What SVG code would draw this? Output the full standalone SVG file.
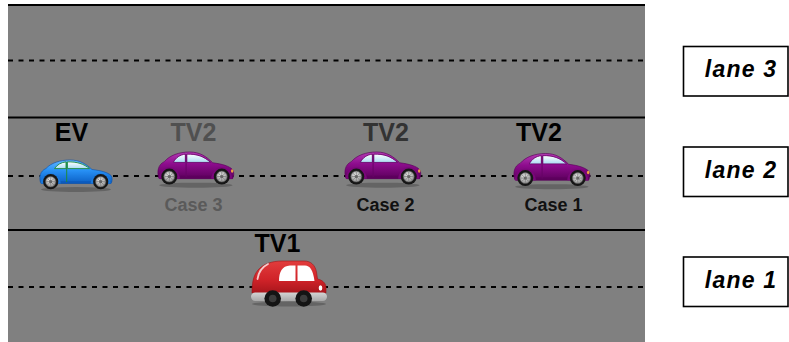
<svg xmlns="http://www.w3.org/2000/svg" xmlns:xlink="http://www.w3.org/1999/xlink" width="789" height="342" viewBox="0 0 789 342">
  <style>
    .edge { stroke: #000; stroke-width: 2; }
    .dash { stroke: #000; stroke-width: 2; stroke-dasharray: 5 5.5; }
    .lbl { font-family: "Liberation Sans", Arial, sans-serif; font-weight: bold; text-anchor: middle; }
    .car-name { font-size: 25px; }
    .case { font-size: 18px; }
    .lane-box { fill: #fff; stroke: #000; stroke-width: 1.6; }
    .lane-txt { font-family: "Liberation Sans", Arial, sans-serif; font-weight: bold; font-style: italic; font-size: 23px; letter-spacing: 1.2px; text-anchor: middle; fill: #000; }
    .tire { fill: #161616; }
    .rim { fill: url(#rimGrad); stroke: #555; stroke-width: 0.6; }
    .hub { fill: #666; }
    .shadow { fill: #000; opacity: 0.22; }
  </style>
  <defs>
    <linearGradient id="blueBody" x1="0" y1="0" x2="0" y2="1">
      <stop offset="0" stop-color="#62b6ff"/>
      <stop offset="0.45" stop-color="#2790f5"/>
      <stop offset="1" stop-color="#0b5fc4"/>
    </linearGradient>
    <linearGradient id="purpleBody" x1="0" y1="0" x2="0" y2="1">
      <stop offset="0" stop-color="#b43cb4"/>
      <stop offset="0.45" stop-color="#8d0c8d"/>
      <stop offset="1" stop-color="#5c005c"/>
    </linearGradient>
    <linearGradient id="redBody" x1="0" y1="0" x2="0" y2="1">
      <stop offset="0" stop-color="#e23c3c"/>
      <stop offset="0.6" stop-color="#cf2228"/>
      <stop offset="1" stop-color="#a8161c"/>
    </linearGradient>
    <linearGradient id="glass" x1="0" y1="0" x2="0" y2="1">
      <stop offset="0" stop-color="#ffffff"/>
      <stop offset="1" stop-color="#a9dcf2"/>
    </linearGradient>
    <linearGradient id="skirt" x1="0" y1="0" x2="0" y2="1">
      <stop offset="0" stop-color="#d4d4d4"/>
      <stop offset="1" stop-color="#a8a8a8"/>
    </linearGradient>
    <radialGradient id="rimGrad" cx="0.45" cy="0.4" r="0.6">
      <stop offset="0" stop-color="#f4f4f4"/>
      <stop offset="1" stop-color="#8e8e8e"/>
    </radialGradient>

    <!-- wheel used by the beetle cars -->
    <g id="wheel">
      <circle class="tire" r="7.6"/>
      <circle class="rim" r="5.2"/>
      <path d="M0,-4.6V4.6M-4.6,0H4.6M-3.2,-3.2L3.2,3.2M-3.2,3.2L3.2,-3.2" stroke="#7a7a7a" stroke-width="0.7"/>
      <circle class="hub" r="1.6"/>
    </g>

    <!-- beetle body outline, 73 wide -->
    <path id="beetleShape" d="M1.5,22.5 C0,17 1,11 7,8.5 C12,3 21,0 31,0 C41,0 47,4 53,9.5 C62,10.5 69,12.5 72,15.5 C73.5,17.5 73.5,21 72,23.5 L3,23.5 C2,23.5 1.7,23 1.5,22.5 Z"/>

    <g id="blueBeetle">
      <ellipse class="shadow" cx="37" cy="29.5" rx="35" ry="2.4"/>
      <use xlink:href="#beetleShape" fill="url(#blueBody)" stroke="#0a4fa8" stroke-width="0.6"/>
      <path d="M1.7,21 H72.5 L72,23.5 H3 Z" fill="#0a55b5" opacity="0.6"/>
      <path d="M1.7,23.5 A10,10 0 0 1 21.7,23.5 Z" fill="#1a78dc"/>
      <path d="M51.7,23.5 A10,10 0 0 1 71.7,23.5 Z" fill="#1a78dc"/>
      <path d="M15.5,8.6 C18,4.8 22,2.4 27,1.9 L27,8.6 Z" fill="url(#glass)" stroke="#1f8a3c" stroke-width="0.9"/>
      <path d="M28.4,1.9 C38,1.6 45,4 50.5,8.6 L28.4,8.6 Z" fill="url(#glass)" stroke="#1f8a3c" stroke-width="0.9"/>
      <line x1="27.7" y1="1.9" x2="27.7" y2="22" stroke="#1f8a3c" stroke-width="1"/>
      <use xlink:href="#wheel" x="11.7" y="21.7"/>
      <use xlink:href="#wheel" x="61.7" y="21.7"/>
    </g>

    <!-- purple beetle: same body, a little taller -->
    <g id="purpleBeetle">
      <ellipse class="shadow" cx="37" cy="31.6" rx="35" ry="2.4"/>
      <g transform="scale(1,1.08)">
        <use xlink:href="#beetleShape" fill="url(#purpleBody)" stroke="#5a005a" stroke-width="0.6"/>
        <path d="M1.7,21 H72.5 L72,23.5 H3 Z" fill="#5a005a" opacity="0.6"/>
        <path d="M1.7,23.5 A10,10 0 0 1 21.7,23.5 Z" fill="#7a077a"/>
        <path d="M51.7,23.5 A10,10 0 0 1 71.7,23.5 Z" fill="#7a077a"/>
        <path d="M15.5,9.2 C18,4.8 22,2.4 27,1.9 L27,9.2 Z" fill="url(#glass)" stroke="#6a046a" stroke-width="0.8"/>
        <path d="M28.4,1.9 C38,1.6 45,4 51,9.2 L28.4,9.2 Z" fill="url(#glass)" stroke="#6a046a" stroke-width="0.8"/>
        <line x1="27.7" y1="1.9" x2="27.7" y2="22" stroke="#660466" stroke-width="0.9"/>
        <ellipse cx="71.6" cy="16.8" rx="1.2" ry="1.6" fill="#f0a040"/>
      </g>
      <use xlink:href="#wheel" x="11.7" y="23.4"/>
      <use xlink:href="#wheel" x="61.7" y="23.4"/>
    </g>
  </defs>

  <!-- road surface and markings -->
  <g id="road">
    <rect x="8" y="5" width="637" height="337" fill="#808080"/>
    <line class="edge" x1="8" y1="5" x2="645" y2="5"/>
    <line class="edge" x1="8" y1="117.5" x2="645" y2="117.5"/>
    <line class="edge" x1="8" y1="230" x2="645" y2="230"/>
    <line class="dash" x1="8" y1="60.5" x2="645" y2="60.5"/>
    <line class="dash" x1="8" y1="176" x2="645" y2="176"/>
    <line class="dash" x1="8" y1="287" x2="645" y2="287"/>
  </g>

  <!-- connectors (none drawn) -->
  <g id="connectors"/>

  <!-- vehicles -->
  <g id="ev">
    <use xlink:href="#blueBeetle" transform="translate(39,160)"/>
    <text class="lbl car-name" x="71.5" y="141" fill="#000">EV</text>
  </g>

  <g id="tv2-case3">
    <use xlink:href="#purpleBeetle" transform="translate(157,152) scale(1.05)"/>
    <text class="lbl car-name" x="193.5" y="141" fill="#505050">TV2</text>
    <text class="lbl case" x="193.5" y="211" fill="#5a5a5a">Case 3</text>
  </g>

  <g id="tv2-case2">
    <use xlink:href="#purpleBeetle" transform="translate(344,152) scale(1.05)"/>
    <text class="lbl car-name" x="386" y="141" fill="#333">TV2</text>
    <text class="lbl case" x="385.5" y="211" fill="#111">Case 2</text>
  </g>

  <g id="tv2-case1">
    <use xlink:href="#purpleBeetle" transform="translate(513,153.5) scale(1.05)"/>
    <text class="lbl car-name" x="539" y="141" fill="#000">TV2</text>
    <text class="lbl case" x="553.5" y="211" fill="#111">Case 1</text>
  </g>

  <g id="tv1">
    <ellipse class="shadow" cx="289" cy="304" rx="37" ry="2.5"/>
    <path d="M252,293 C252,284 253,276 258,270 C263,264 272,261 282,261 L304,261 C311,261 315,265 316.5,272 L317.5,279 C322,280 325.5,282.5 326,287 L326,293 Z" fill="url(#redBody)" stroke="#9a1418" stroke-width="0.6"/>
    <path d="M257.5,279 C258.5,272 262,267 268,264" fill="none" stroke="#fff" stroke-width="1.8" stroke-linecap="round" opacity="0.75"/>
    <path d="M279,281 C279,272 282,266 290,265.5 L295.5,265.5 L295.5,281 Z" fill="#fff"/>
    <path d="M297.5,265.5 L305,265.5 C310,265.5 313,270 314.5,281 L297.5,281 Z" fill="#fff"/>
    <ellipse cx="320.5" cy="288" rx="1.8" ry="2.8" fill="#fff"/>
    <rect x="251" y="292.5" width="76" height="8.5" rx="4.2" fill="url(#skirt)"/>
    <circle cx="272.7" cy="298.5" r="8.3" fill="#141414"/>
    <circle cx="272.7" cy="298.5" r="3.8" fill="#3c3c3c"/>
    <circle cx="303.7" cy="298.5" r="8.3" fill="#141414"/>
    <circle cx="303.7" cy="298.5" r="3.8" fill="#3c3c3c"/>
    <text class="lbl car-name" x="277.5" y="252" fill="#000">TV1</text>
  </g>

  <!-- lane legend -->
  <g id="lane3">
    <rect class="lane-box" x="683.5" y="46.5" width="104.5" height="49.5"/>
    <text class="lane-txt" x="741" y="77">lane 3</text>
  </g>
  <g id="lane2">
    <rect class="lane-box" x="683.5" y="147" width="104.5" height="49.5"/>
    <text class="lane-txt" x="741" y="178">lane 2</text>
  </g>
  <g id="lane1">
    <rect class="lane-box" x="683.5" y="257" width="104.5" height="49.5"/>
    <text class="lane-txt" x="741" y="288">lane 1</text>
  </g>
</svg>
